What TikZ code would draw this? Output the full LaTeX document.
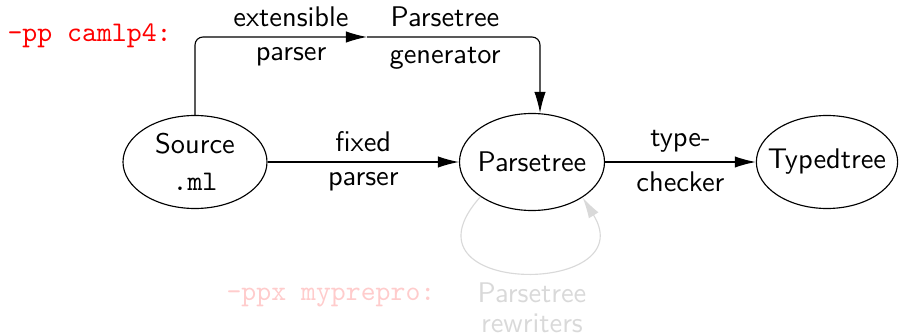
\documentclass[tikz,border=0pt]{standalone}
\usetikzlibrary{arrows.meta,shapes.geometric}
\definecolor{lgray}{RGB}{217,217,217}
\definecolor{lpink}{RGB}{255,204,204}
\def\pxu{0.352pt}
\begin{document}
\begin{tikzpicture}[x=0.352pt,y=-0.352pt,font=\sffamily,
  ell/.style={ellipse,draw,line width=0.4pt},
  arr/.style={line width=0.4pt,-{Latex[length=7.4pt,width=4pt]}},
  cmd/.style={anchor=base west,inner sep=0pt,font=\ttfamily}]
\useasboundingbox (0,0) rectangle (901,335);
% nodes
\node[ell,align=center,inner sep=0pt,minimum width=144*\pxu,minimum height=93*\pxu] (s) at (195,162) {Source\\[1pt]\texttt{.ml}};
\node[ell,inner xsep=-1.3pt,inner ysep=0pt,minimum width=145*\pxu,minimum height=97*\pxu] (p) at (532,162) {Parsetree};
\node[ell,inner xsep=-3.2pt,inner ysep=0pt,minimum width=141*\pxu,minimum height=93*\pxu] (t) at (827,162) {Typedtree};
% main pipeline
\draw[arr] (s) -- node[above]{fixed} node[below]{parser} (p);
\draw[arr] (p) -- node[above]{type-} node[below]{checker} (t);
% camlp4 path
\coordinate (m) at (367,37);
\draw[arr,rounded corners=2.8pt] (s.north) |- (m);
\draw[arr,rounded corners=2.8pt] (m) -| ([shift={(8,0)}]p.north);
\node[above] (l1) at (291,37) {extensible};
\node[below] (l2) at (291,37) {parser};
\node[above] (l3) at (445,37) {Parsetree};
\node[below] (l4) at (445,37) {generator};
\node[cmd,text=red] (pp) at (7,42) {-pp camlp4:};
% ppx loop
\draw[arr,draw=lgray] (p.214) .. controls +(-90,100) and +(62,100) .. (p.325);
\node[cmd,text=lpink] (ppx) at (226,300) {-ppx myprepro:};
\node[text=lgray,align=center,anchor=north,inner sep=0pt] (rw) at (532,282) {Parsetree\\[-1.5pt]rewriters};
\end{tikzpicture}
\end{document}
